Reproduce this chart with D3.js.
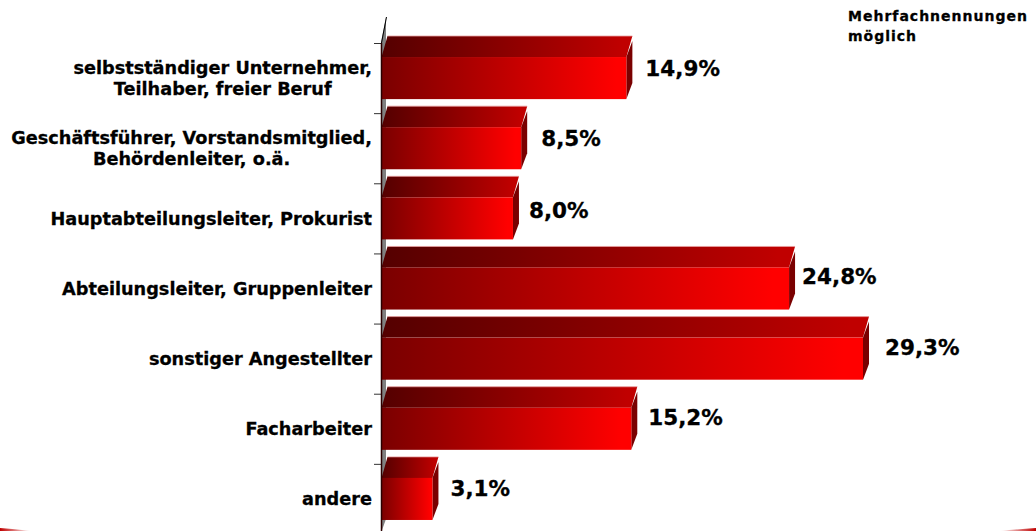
<!DOCTYPE html>
<html>
<head>
<meta charset="utf-8">
<script src="https://cdn.jsdelivr.net/npm/d3@7"></script>
<style>
  html, body { margin: 0; padding: 0; background: #fff; overflow: hidden; }
  text { font-family: "DejaVu Sans", Verdana, sans-serif; font-weight: bold; fill: #000; stroke: #000; stroke-width: 0.3; }
</style>
</head>
<body>
<script>
const categories = [
    ["selbstständiger Unternehmer,", "Teilhaber, freier Beruf"],
    ["Geschäftsführer, Vorstandsmitglied,", "Behördenleiter, o.ä."],
    ["Hauptabteilungsleiter, Prokurist"],
    ["Abteilungsleiter, Gruppenleiter"],
    ["sonstiger Angestellter"],
    ["Facharbeiter"],
    ["andere"]
]
const values = [14.9, 8.5, 8.0, 24.8, 29.3, 15.2, 3.1]
const valueLabels = ["14,9%", "8,5%", "8,0%", "24,8%", "29,3%", "15,2%", "3,1%"]
const noteLines = ["Mehrfachnennungen", "möglich"]

const width = 1036
const height = 531
const depth = {x: 6, y: 21} // 3d offset of the bars

// the value labels are not evenly placed in the original
const labelDx = [19, 20, 16, 13, 22, 17, 18]
const labelDy = [19, 19, 21, 17, 17, 17, 18]

const svg = d3.select("body").append("svg")
    .attr("width", width)
    .attr("height", height)
    .style("display", "block")

const x = d3.scaleLinear().domain([0, 29.3]).range([381.5, 863])
const y = d3.scaleBand()
    .domain(d3.range(categories.length))
    .range([43, 534])
    .paddingInner(0.4)
    .paddingOuter(0.2)

// gradients
const defs = svg.append("defs")
function gradient(id, from, to, stop) {
    const g = defs.append("linearGradient").attr("id", id)
    g.append("stop").attr("offset", 0).attr("stop-color", from)
    g.append("stop").attr("offset", stop).attr("stop-color", to)
    g.append("stop").attr("offset", 1).attr("stop-color", to)
}
gradient("front", "#7a0000", "#ff0000", 0.96)
gradient("top", "#540000", "#c00000", 0.96)
gradient("swoosh-l", "#c00000", "#ffffff", 1)
gradient("swoosh-r", "#ffffff", "#c00000", 1)

// back wall of the axis
const wallBottom = 533
svg.append("path")
    .attr("d", `M381,${wallBottom} L381,42 L386,17 L386,${wallBottom - 14} Z`)
    .attr("fill", "#808080")

const axis = svg.append("g")
axis.selectAll("line.tick").data(d3.range(categories.length + 1)).join("line")
    .attr("class", "tick")
    .attr("x1", 374).attr("x2", 381)
    .attr("y1", i => 43.5 + i * y.step())
    .attr("y2", i => 43.5 + i * y.step())
    .attr("stroke", "#333")
axis.append("line")
    .attr("x1", 386.5).attr("x2", 381.5).attr("y1", 17).attr("y2", 43)
    .attr("stroke", "#000")

// bars
const bars = svg.append("g").selectAll("g").data(values).join("g")

bars.append("path") // top face
    .attr("d", (d, i) => {
        const y0 = y(i)
        return `M${x(0)},${y0} L${x(0) + depth.x},${y0 - depth.y} L${x(d) + depth.x},${y0 - depth.y} L${x(d)},${y0} Z`
    })
    .attr("fill", "url(#top)")

bars.append("line") // light edge on top face
    .attr("x1", x(0) + depth.x)
    .attr("x2", d => x(d) + depth.x)
    .attr("y1", (d, i) => y(i) - depth.y)
    .attr("y2", (d, i) => y(i) - depth.y)
    .attr("stroke", "#e8a0a0")
    .attr("stroke-width", 0.8)

bars.append("path") // side face
    .attr("d", (d, i) => {
        const y0 = y(i), y1 = y0 + y.bandwidth()
        return `M${x(d)},${y0} L${x(d) + depth.x},${y0 - 16} L${x(d) + depth.x},${y1 - 16} L${x(d)},${y1} Z`
    })
    .attr("fill", "#7a0000")

bars.append("rect") // front face
    .attr("x", x(0))
    .attr("y", (d, i) => y(i))
    .attr("width", d => x(d) - x(0))
    .attr("height", y.bandwidth())
    .attr("fill", "url(#front)")

// axis line in front of the bars
svg.append("line")
    .attr("x1", 381.5).attr("x2", 381.5).attr("y1", 43).attr("y2", height)
    .attr("stroke", "#2a0000")
    .attr("stroke-width", 1.5)

// value labels
svg.append("g").selectAll("text").data(values).join("text")
    .attr("x", (d, i) => x(d) + labelDx[i])
    .attr("y", (d, i) => y(i) + labelDy[i])
    .attr("font-size", 21.5)
    .text((d, i) => valueLabels[i])

// category labels, block sits right aligned, lines centered in it
const labelRight = 372
const lineStep = 21
const labels = svg.append("g").selectAll("g").data(categories).join("g")
labels.each(function(lines, i) {
    const g = d3.select(this)
    const cy = y(i) + y.bandwidth() / 2
    const texts = g.selectAll("text").data(lines).join("text")
        .attr("font-size", 17.7)
        .attr("text-anchor", "middle")
        .attr("y", (l, k) => cy + 6.5 + (k - (lines.length - 1) / 2) * lineStep)
        .text(l => l)
    const w = d3.max(texts.nodes(), n => n.getComputedTextLength())
    texts.attr("x", labelRight - w / 2)
})

// note top right
svg.append("g").selectAll("text").data(noteLines).join("text")
    .attr("x", 848)
    .attr("y", (d, i) => 21 + i * 20)
    .attr("font-size", 14)
    .attr("letter-spacing", 1)
    .text(d => d)

// red swooshes at the bottom edge
svg.append("path").attr("d", "M0,528 Q15,529 31,531 L0,531 Z").attr("fill", "url(#swoosh-l)")
svg.append("path").attr("d", "M1000,531 Q1018,529 1036,528 L1036,531 Z").attr("fill", "url(#swoosh-r)")
</script>
</body>
</html>
